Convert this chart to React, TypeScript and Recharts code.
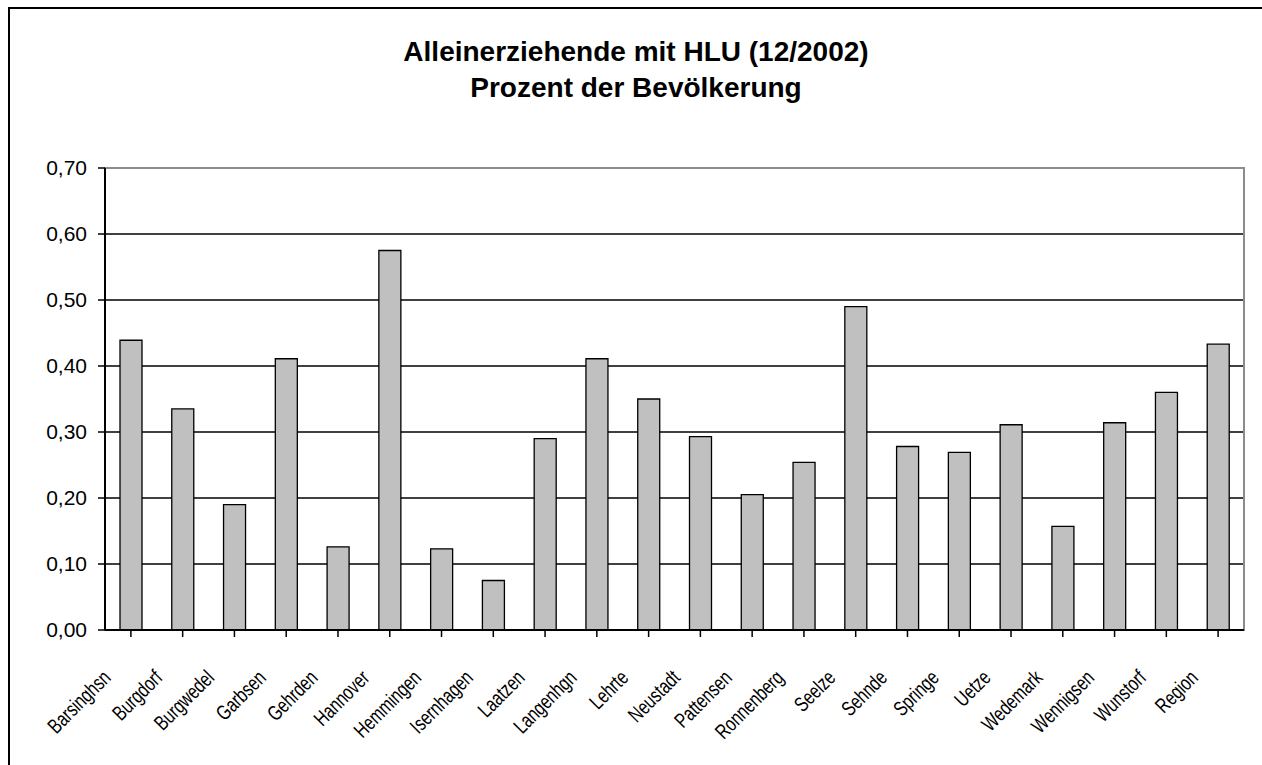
import { BarChart, Bar, XAxis, YAxis, CartesianGrid, ReferenceLine, ReferenceArea } from "recharts";

const towns = [
  "Barsinghsn", "Burgdorf", "Burgwedel", "Garbsen", "Gehrden", "Hannover",
  "Hemmingen", "Isernhagen", "Laatzen", "Langenhgn", "Lehrte", "Neustadt",
  "Pattensen", "Ronnenberg", "Seelze", "Sehnde", "Springe", "Uetze",
  "Wedemark", "Wennigsen", "Wunstorf", "Region",
];

const shares = [
  0.439, 0.335, 0.19, 0.411, 0.126, 0.575,
  0.123, 0.075, 0.29, 0.411, 0.35, 0.293,
  0.205, 0.254, 0.49, 0.278, 0.269, 0.311,
  0.157, 0.314, 0.36, 0.433,
];

const yTicks = [0, 0.1, 0.2, 0.3, 0.4, 0.5, 0.6, 0.7];

const data = towns.map((name, i) => ({ name, value: shares[i] }));

const font = "'Liberation Sans', Arial, sans-serif";

// labels in the original are rotated and squeezed horizontally
const XTick = ({ x, y, payload }: any) => (
  <g transform={`translate(${x - 19},${y + 40})`}>
    <text textAnchor="end" transform="rotate(-45) scale(0.75,1)" fontSize={21} fill="#000" fontFamily={font}>
      {payload.value}
    </text>
  </g>
);

export default function App() {
  return (
    <div style={{ position: "absolute", left: 0, top: 0, width: 1262, height: 765, overflow: "hidden", background: "#fff" }}>
      {/* outer frame, runs off the right and bottom edge */}
      <div style={{ position: "absolute", left: 8, top: 7, width: 1280, height: 800, border: "2px solid #000" }} />

      <div style={{ position: "absolute", left: 0, top: 34, width: 1272, textAlign: "center", fontFamily: font, fontWeight: 700, fontSize: 28, lineHeight: "36px", color: "#000" }}>
        <div>Alleinerziehende mit HLU (12/2002)</div>
        <div>Prozent der Bevölkerung</div>
      </div>

      <div style={{ position: "absolute", left: 0, top: 0 }}>
        <BarChart width={1262} height={765} data={data} margin={{ top: 168, right: 18, left: 45, bottom: 35 }} barSize={22}>
          <ReferenceArea y1={0} y2={0.7} fill="none" stroke="#8c8c8c" strokeWidth={2} />
          <CartesianGrid vertical={false} stroke="#000" strokeWidth={1.3} />
          <ReferenceLine y={0.7} stroke="#8c8c8c" strokeWidth={2} />
          <XAxis
            dataKey="name"
            interval={0}
            height={100}
            tickSize={7}
            axisLine={{ stroke: "#000", strokeWidth: 2 }}
            tickLine={{ stroke: "#000", strokeWidth: 1.5 }}
            tick={<XTick />}
            scale="band"
          />
          <YAxis
            domain={[0, 0.7]}
            ticks={yTicks}
            width={60}
            tickSize={7}
            tickMargin={11}
            interval={0}
            axisLine={{ stroke: "#000", strokeWidth: 2 }}
            tickLine={{ stroke: "#000", strokeWidth: 1.5 }}
            tickFormatter={(v: number) => v.toFixed(2).replace(".", ",")}
            tick={{ fontSize: 21, fill: "#000", fontFamily: font }}
          />
          <Bar dataKey="value" fill="#c0c0c0" stroke="#000" strokeWidth={1.3} isAnimationActive={false} />
        </BarChart>
      </div>
    </div>
  );
}
